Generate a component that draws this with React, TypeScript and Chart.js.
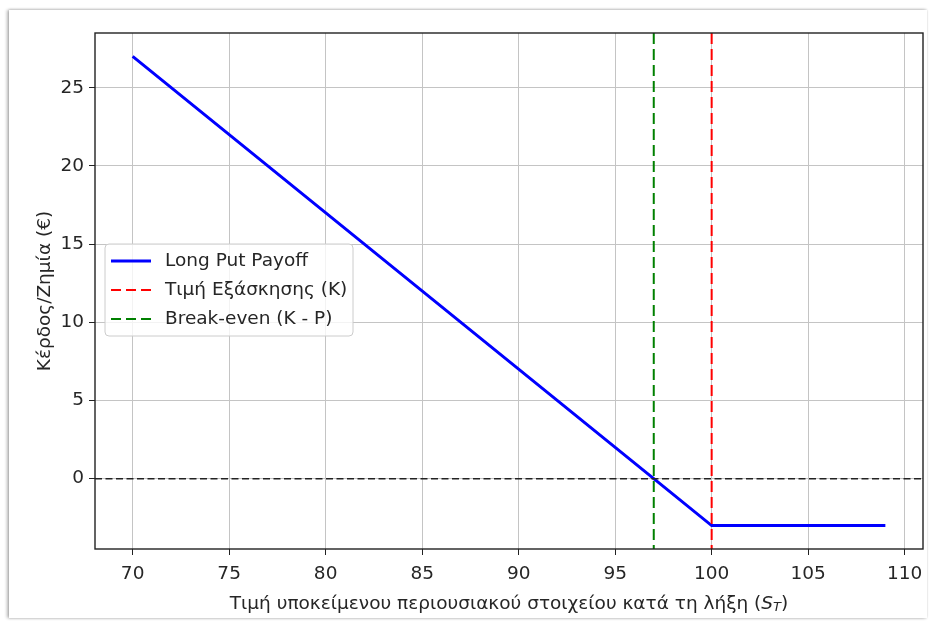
import React, { useEffect, useRef } from "react";
import { Chart, registerables } from "chart.js";
Chart.register(...registerables);

// ---- data ----
const underlyingPrices = [70, 97, 100, 109];
const payoffValues = [27, 0, -3, -3];
const strikePrice = 100;
const breakEvenPrice = 97;
const zeroLevel = 0;
const xTickValues = [70, 75, 80, 85, 90, 95, 100, 105, 110];
const yTickValues = [0, 5, 10, 15, 20, 25];
const xRange = [68.05, 110.95];
const yRange = [-4.5, 28.5];
const seriesLabels = ["Long Put Payoff", "Τιμή Εξάσκησης (K)", "Break-even (K - P)"];
const xTitleMain = "Τιμή υποκείμενου περιουσιακού στοιχείου κατά τη λήξη (";
const xTitleVar = "S";
const xTitleSub = "T";
const xTitleEnd = ")";
const yTitle = "Κέρδος/Ζημία (€)";

const FONT = "'DejaVu Sans', sans-serif";
const FS = 18.5;
const TEXT = "#262626";
const GRID = "#c4c4c4";

const decorPlugin = {
  id: "decor",
  afterDatasetsDraw(chart: any) {
    const { ctx, chartArea: a, scales } = chart;
    const xs = scales.x, ys = scales.y;
    ctx.save();
    ctx.beginPath();
    ctx.rect(a.left, a.top, a.right - a.left, a.bottom - a.top);
    ctx.clip();
    ctx.lineWidth = 2;
    ctx.setLineDash([11, 5]);
    ctx.strokeStyle = "#ff0000";
    let px = xs.getPixelForValue(strikePrice);
    ctx.beginPath(); ctx.moveTo(px, a.top); ctx.lineTo(px, a.bottom); ctx.stroke();
    ctx.strokeStyle = "#008000";
    px = xs.getPixelForValue(breakEvenPrice);
    ctx.beginPath(); ctx.moveTo(px, a.top); ctx.lineTo(px, a.bottom); ctx.stroke();
    ctx.lineWidth = 1.5;
    ctx.setLineDash([7, 3.5]);
    ctx.strokeStyle = "#222222";
    const py = ys.getPixelForValue(zeroLevel);
    ctx.beginPath(); ctx.moveTo(a.left, py); ctx.lineTo(a.right, py); ctx.stroke();
    ctx.restore();
    ctx.save();
    ctx.setLineDash([]);
    ctx.lineWidth = 1.4;
    ctx.strokeStyle = "#222222";
    ctx.strokeRect(a.left, a.top, a.right - a.left, a.bottom - a.top);
    ctx.restore();
  },
  afterDraw(chart: any) {
    const { ctx, chartArea: a } = chart;
    ctx.save();
    const lx = 105, ly = 244, lw = 248, lh = 92, r = 4;
    ctx.beginPath();
    ctx.moveTo(lx + r, ly);
    ctx.lineTo(lx + lw - r, ly);
    ctx.quadraticCurveTo(lx + lw, ly, lx + lw, ly + r);
    ctx.lineTo(lx + lw, ly + lh - r);
    ctx.quadraticCurveTo(lx + lw, ly + lh, lx + lw - r, ly + lh);
    ctx.lineTo(lx + r, ly + lh);
    ctx.quadraticCurveTo(lx, ly + lh, lx, ly + lh - r);
    ctx.lineTo(lx, ly + r);
    ctx.quadraticCurveTo(lx, ly, lx + r, ly);
    ctx.closePath();
    ctx.fillStyle = "rgba(255,255,255,0.8)";
    ctx.fill();
    ctx.strokeStyle = "#cccccc";
    ctx.lineWidth = 1;
    ctx.stroke();
    const rows = [
      { color: "#0000ff", dash: [] as number[], width: 3 },
      { color: "#ff0000", dash: [10, 5], width: 2 },
      { color: "#008000", dash: [10, 5], width: 2 },
    ];
    const rowY = [261, 290, 319];
    rows.forEach((row, i) => {
      ctx.setLineDash(row.dash);
      ctx.lineWidth = row.width;
      ctx.strokeStyle = row.color;
      ctx.beginPath(); ctx.moveTo(111, rowY[i]); ctx.lineTo(151, rowY[i]); ctx.stroke();
      ctx.setLineDash([]);
      ctx.fillStyle = TEXT;
      ctx.font = `${FS}px ${FONT}`;
      ctx.textAlign = "left";
      ctx.textBaseline = "middle";
      ctx.fillText(seriesLabels[i], 165, rowY[i]);
    });
    ctx.fillStyle = TEXT;
    ctx.textBaseline = "middle";
    ctx.textAlign = "left";
    const mainFont = `${FS}px ${FONT}`;
    const itFont = `italic ${FS}px ${FONT}`;
    const subFont = `italic ${Math.round(FS * 0.7)}px ${FONT}`;
    ctx.font = mainFont; const w1 = ctx.measureText(xTitleMain).width;
    ctx.font = itFont; const w2 = ctx.measureText(xTitleVar).width;
    ctx.font = subFont; const w3 = ctx.measureText(xTitleSub).width;
    ctx.font = mainFont; const w4 = ctx.measureText(xTitleEnd).width;
    const total = w1 + w2 + w3 + w4;
    const cx = (a.left + a.right) / 2;
    const ty = 604;
    let x0 = cx - total / 2;
    ctx.font = mainFont; ctx.fillText(xTitleMain, x0, ty); x0 += w1;
    ctx.font = itFont; ctx.fillText(xTitleVar, x0, ty); x0 += w2;
    ctx.font = subFont; ctx.fillText(xTitleSub, x0, ty + 4); x0 += w3;
    ctx.font = mainFont; ctx.fillText(xTitleEnd, x0, ty);
    ctx.translate(45, (a.top + a.bottom) / 2);
    ctx.rotate(-Math.PI / 2);
    ctx.textAlign = "center";
    ctx.font = mainFont;
    ctx.fillText(yTitle, 0, 0);
    ctx.restore();
  },
};

export default function App() {
  const ref = useRef<HTMLCanvasElement | null>(null);
  useEffect(() => {
    if (!ref.current) return;
    const chart = new Chart(ref.current, {
      type: "line",
      data: {
        datasets: [
          {
            label: seriesLabels[0],
            data: underlyingPrices.map((x, i) => ({ x, y: payoffValues[i] })),
            borderColor: "#0000ff",
            borderWidth: 3,
            pointRadius: 0,
            tension: 0,
            fill: false,
          },
        ],
      },
      options: {
        responsive: false,
        animation: false,
        devicePixelRatio: 1,
        layout: { padding: { top: 33, right: 10, left: 0, bottom: 0 } },
        plugins: { legend: { display: false }, tooltip: { enabled: false } },
        scales: {
          x: {
            type: "linear",
            min: xRange[0],
            max: xRange[1],
            afterBuildTicks: (s: any) => { s.ticks = xTickValues.map((v) => ({ value: v })); },
            afterFit: (s: any) => { s.height = 81; },
            grid: { color: GRID, lineWidth: 1, tickColor: "#222222", tickLength: 6, drawTicks: true },
            border: { display: false },
            ticks: { font: { family: FONT, size: FS }, color: TEXT, padding: 8, maxRotation: 0, autoSkip: false },
          },
          y: {
            type: "linear",
            min: yRange[0],
            max: yRange[1],
            afterBuildTicks: (s: any) => { s.ticks = yTickValues.map((v) => ({ value: v })); },
            afterFit: (s: any) => { s.width = 95; },
            grid: { color: GRID, lineWidth: 1, tickColor: "#222222", tickLength: 6, drawTicks: true },
            border: { display: false },
            ticks: { font: { family: FONT, size: FS }, color: TEXT, padding: 5, autoSkip: false },
          },
        },
      },
      plugins: [decorPlugin],
    } as any);
    return () => chart.destroy();
  }, []);
  return (
    <div style={{ position: "fixed", left: 0, top: 0, width: 933, height: 630, background: "#ffffff", overflow: "hidden" }}>
      <div
        style={{
          position: "absolute",
          left: 9,
          top: 10,
          width: 918,
          height: 608,
          background: "#ffffff",
          boxShadow: "-2px 0 3px rgba(0,0,0,0.28), 0 -1px 2px rgba(0,0,0,0.12), 0 1px 2px rgba(0,0,0,0.08)",
        }}
      />
      <canvas ref={ref} width={933} height={630} style={{ position: "absolute", left: 0, top: 0, width: 933, height: 630 }} />
    </div>
  );
}
